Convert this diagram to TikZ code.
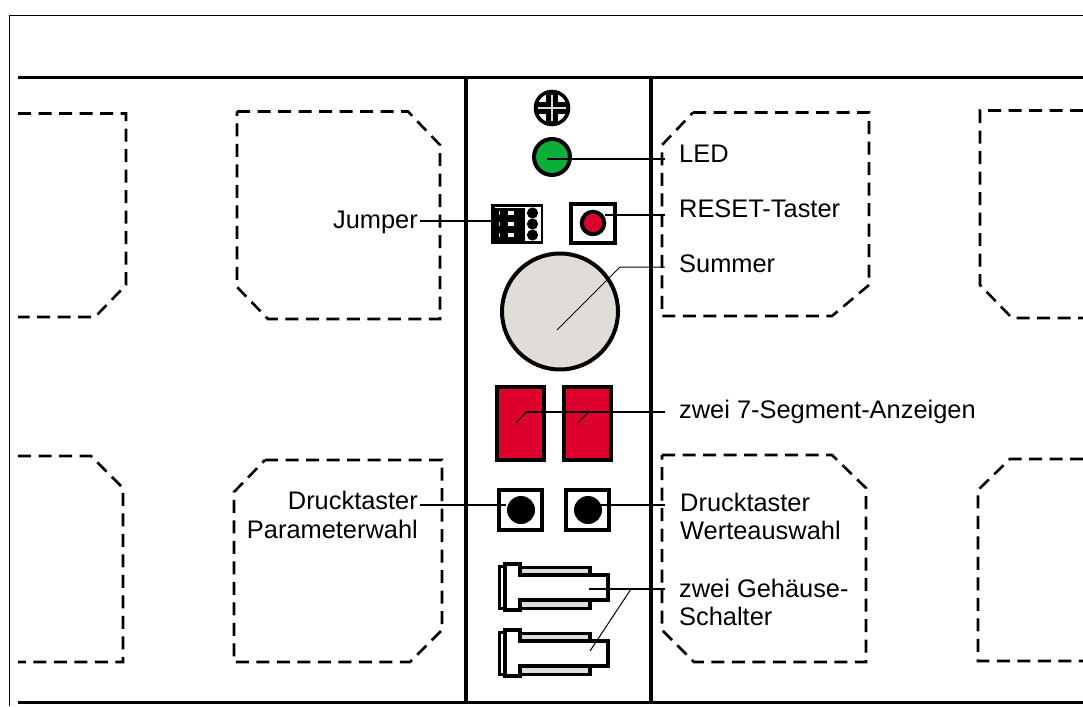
\documentclass[tikz,border=0pt]{standalone}
\usepackage{fontspec}
\setmainfont{Liberation Sans}
\definecolor{ledgreen}{RGB}{10,175,55}
\definecolor{segred}{RGB}{222,0,45}
\definecolor{lightgrey}{RGB}{224,221,217}
\tikzset{
  cut/.style={line width=2.6pt,dash pattern=on 13pt off 7.5pt,line join=miter},
  wall/.style={line width=3.6pt},
  part/.style={draw=black,line width=4pt},
  lead/.style={line width=1.3pt},
  leadthin/.style={line width=1pt},
  lab/.style={inner sep=0pt,font=\fontsize{25.4}{29}\selectfont,anchor=west,text height=17pt,text depth=0pt},
  labr/.style={lab,anchor=east},
}
\begin{document}
\begin{tikzpicture}[x=1pt,y=-1pt]
\useasboundingbox (0,0) rectangle (1083,706);
\fill[white] (0,0) rectangle (1083,706);
% frame
\draw[line width=1.1pt] (9.5,706) -- (9.5,15.5) -- (1083,15.5);
% walls
\draw[wall] (18,77.5) -- (1083,77.5);
\draw[wall] (18,702.5) -- (1083,702.5);
\draw[wall] (466,77.5) -- (466,702.5);
\draw[wall] (651,77.5) -- (651,702.5);
% dashed cut-outs
\draw[cut] (18,113.5) -- (126,113.5) -- (126,285) -- (95,317) -- (18,317);
\draw[cut] (237,111.5) -- (408,111.5) -- (440,145) -- (440,319) -- (268,319) -- (237,287) -- cycle;
\draw[cut] (693,112.5) -- (869,112.5) -- (869,285) -- (832,316) -- (662,316) -- (662,145) -- cycle;
\draw[cut] (1083,110.5) -- (980,110.5) -- (980,285) -- (1012,318) -- (1083,318);
\draw[cut] (18,456) -- (91,456) -- (123,488) -- (123,662) -- (18,662);
\draw[cut] (265,460) -- (442,460) -- (442,630) -- (410,662) -- (234,662) -- (234,492) -- cycle;
\draw[cut] (662,455) -- (832,455) -- (866,488) -- (866,662) -- (694,662) -- (662,630) -- cycle;
\draw[cut] (1083,459) -- (1010,459) -- (978,490) -- (978,661) -- (1083,661);
% screw
\node[circle,draw=black,fill=white,line width=3.6pt,minimum size=33pt,inner sep=0pt] (screw) at (552,108) {};
\fill[black] (546,92) rectangle (558,124);
\fill[black] (536,102) rectangle (568,114);
\draw[lightgrey,line width=1.8pt] (552,95) -- (552,121) (538,108) -- (566,108);
% LED
\node[circle,draw=black,fill=ledgreen,line width=4pt,minimum size=36pt,inner sep=0pt] (led) at (552,157) {};
% jumper
\node[fill=black,minimum width=52pt,minimum height=40pt,inner sep=0pt] (jumper) at (517,224) {};
\fill[white] (525,207) rectangle (541,241);
\foreach \yy in {213,224,235} {
  \fill[black] (532.5,\yy) circle (5.6);
  \fill[white] (508,\yy-2.2) rectangle (513.5,\yy+2.2);
}
\draw[white,line width=0.4pt] (495,207) -- (525,207);
\foreach \yy in {213,224,235} \draw[lightgrey,line width=0.5pt] (499.5,\yy-2) -- (499.5,\yy+2);
% reset
\node[part,fill=white,minimum width=43.5pt,minimum height=39pt,inner sep=0pt] (reset) at (593,223.5) {};
\node[circle,draw=black,fill=segred,line width=4pt,minimum size=22.5pt,inner sep=0pt] (resetb) at (593,223) {};
% buzzer
\node[circle,draw=black,fill=lightgrey,line width=4pt,minimum size=116pt,inner sep=0pt] (buzzer) at (560,311.5) {};
% displays
\node[part,fill=segred,minimum width=47pt,minimum height=73pt,inner sep=0pt] (segA) at (520.5,423.5) {};
\node[part,fill=segred,minimum width=47pt,minimum height=73pt,inner sep=0pt] (segB) at (587.5,423.5) {};
% push buttons
\node[part,fill=white,minimum width=43.5pt,minimum height=40pt,inner sep=0pt] (btnA) at (520.5,510) {};
\node[part,fill=white,minimum width=43.5pt,minimum height=40pt,inner sep=0pt] (btnB) at (587.5,510) {};
\node[circle,fill=black,minimum size=28pt,inner sep=0pt] (dotA) at (521,510) {};
\node[circle,fill=black,minimum size=28pt,inner sep=0pt] (dotB) at (588,510) {};
% switches
\foreach \dy in {0,66} {
  \begin{scope}[yshift=-\dy pt]
    \draw[draw=black,fill=lightgrey,line width=3.2pt] (520,567.5) rectangle (590,608.5);
    \draw[draw=black,fill=white,line width=2.6pt] (499.5,566.5) rectangle (505,608.5);
    \draw[draw=black,fill=white,line width=3.8pt,line join=miter] (505,564) -- (520,564) -- (520,575) -- (608,575) -- (608,600) -- (520,600) -- (520,610) -- (505,610) -- cycle;
  \end{scope}
}
% labels
\node[lab] (tLed) at (679,154) {LED};
\node[lab] (tReset) at (679,209) {RESET-Taster};
\node[lab] (tSum) at (679,264) {Summer};
\node[lab] (tSeg) at (679,410) {zwei 7-Segment-Anzeigen};
\node[lab] (tWert1) at (680,503) {Drucktaster};
\node[lab] (tWert2) at (680,531) {Werteauswahl};
\node[lab] (tGeh1) at (679,589) {zwei Gehäuse-};
\node[lab] (tGeh2) at (679,617) {Schalter};
\node[labr] (tJump) at (418,220) {Jumper};
\node[labr] (tPar1) at (418,501) {Drucktaster};
\node[labr] (tPar2) at (418,530) {Parameterwahl};
% leader anchors
\coordinate (cLed) at (547,159);
\coordinate (cReset) at (605,215);
\coordinate (cSum0) at (557,330);
\coordinate (cSum1) at (620,267);
\coordinate (cSum2) at (665,267);
\coordinate (cSeg0) at (516,423);
\coordinate (cSeg1) at (526,412);
\coordinate (cSeg2) at (578,423);
\coordinate (cSeg3) at (588,412);
\coordinate (cSeg4) at (665,412);
\coordinate (cLed2) at (665,159);
\coordinate (cRes2) at (665,215);
\coordinate (cJ0) at (420,221);
\coordinate (cJ1) at (491,221);
\coordinate (cPA0) at (420,505);
\coordinate (cPA1) at (506,505);
\coordinate (cPB0) at (600,505);
\coordinate (cPB1) at (665,505);
\coordinate (cG0) at (589,589);
\coordinate (cG1) at (631,589);
\coordinate (cG2) at (665,589);
\coordinate (cG3) at (590,651);
% leaders
\draw[lead] (cLed) -- (cLed2);
\draw[lead] (cReset) -- (cRes2);
\draw[lead] (cJ0) -- (cJ1);
\draw[leadthin] (cSum0) -- (cSum1) -- (cSum2);
\draw[line width=1.8pt] (cSeg1) -- (cSeg4);
\draw[leadthin] (cSeg0) -- (cSeg1);
\draw[leadthin] (cSeg2) -- (cSeg3);
\draw[lead] (cPA0) -- (cPA1);
\draw[lead] (cPB0) -- (cPB1);
\draw[lead] (cG0) -- (cG2);
\draw[leadthin] (cG1) -- (cG3);
\end{tikzpicture}
\end{document}
